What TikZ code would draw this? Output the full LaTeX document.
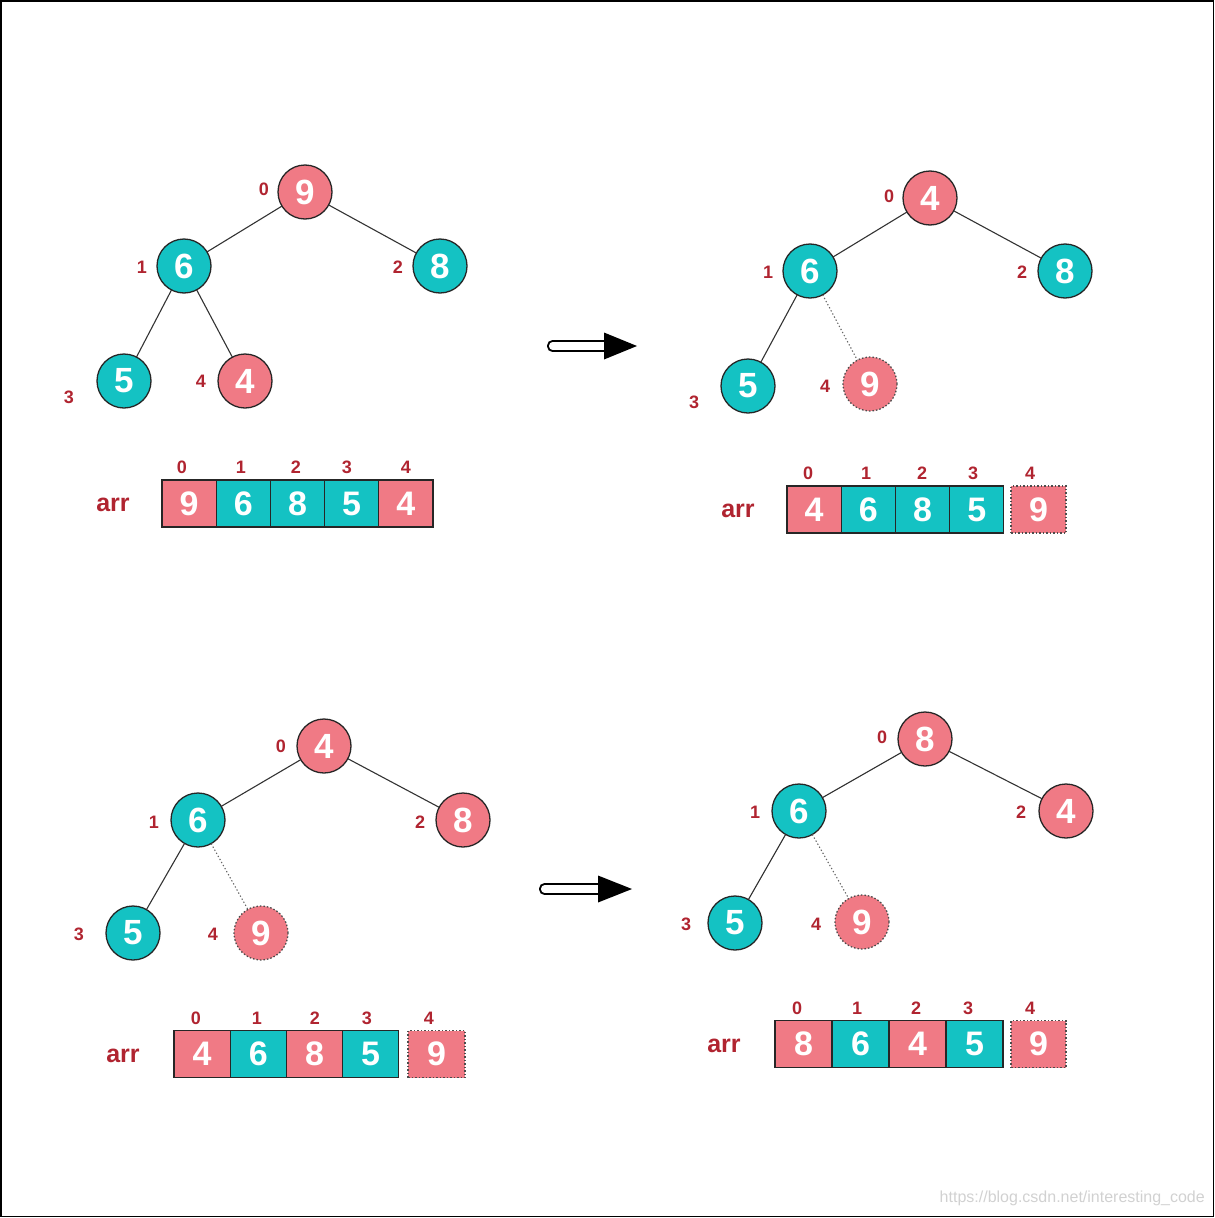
\documentclass[tikz,border=0pt]{standalone}
\usepackage{fontspec}
\setmainfont{Liberation Sans}
\definecolor{pinkc}{HTML}{F07A85}
\definecolor{tealc}{HTML}{14C2C3}
\definecolor{lblc}{HTML}{B02430}
\newcommand\nodefnt{\fontsize{35}{38}\selectfont\bfseries}
\newcommand\cellfnt{\fontsize{34}{36}\selectfont\bfseries}
\newcommand\idxfnt{\fontsize{18}{20}\selectfont\bfseries}
\newcommand\arrfnt{\fontsize{25}{28}\selectfont\bfseries}
\tikzset{
  hnode/.style={circle, draw=black!85, line width=1.3pt, minimum size=54pt, inner sep=0pt, outer sep=0pt, text=white, font=\nodefnt},
  pk/.style={hnode, fill=pinkc},
  tl/.style={hnode, fill=tealc},
  dpk/.style={pk, draw=black!70, dash pattern=on 1.5pt off 2pt},
  idx/.style={text=lblc, font=\idxfnt, inner sep=0pt},
  arrlbl/.style={text=lblc, font=\arrfnt, inner sep=0pt},
  edge/.style={draw=black!80, line width=1.1pt},
  dedge/.style={draw=black!60, line width=1.1pt, dash pattern=on 1.3pt off 2.2pt},
  cell/.style={rectangle, draw=black!85, line width=1.3pt, inner sep=0pt, outer sep=0pt, minimum height=47pt, text=white, font=\cellfnt},
  cp/.style={cell, fill=pinkc},
  ct/.style={cell, fill=tealc},
  dcp/.style={cp, draw=black!70, dash pattern=on 1.5pt off 2pt},
  bigarrow/.style={line width=1.8pt, draw=black, fill=white, rounded corners=4.5pt},
  arrowhead/.style={fill=black},
  wm/.style={text=black!18, font=\fontsize{16}{18}\selectfont, inner sep=0pt}
}
\begin{document}
\begin{tikzpicture}[x=1pt,y=-1pt]
\useasboundingbox (0,0) rectangle (1215,1218);
\draw[line width=1.2pt] (1,1) rectangle (1213.5,1216.5);

% ---------- Panel 1 ----------
\node[pk] (a0) at (305,192) {9};
\node[tl] (a1) at (184,266) {6};
\node[tl] (a2) at (440,266) {8};
\node[tl] (a3) at (124,381) {5};
\node[pk] (a4) at (245,381) {4};
\draw[edge] (a0) -- (a1);
\draw[edge] (a0) -- (a2);
\draw[edge] (a1) -- (a3);
\draw[edge] (a1) -- (a4);
\node[idx] (al0) at (264,189) {0};
\node[idx] (al1) at (142,267) {1};
\node[idx] (al2) at (398,267) {2};
\node[idx] (al3) at (69,397) {3};
\node[idx] (al4) at (201,381) {4};
\node[arrlbl] (aarr) at (113,505) {arr};
\node[cp, minimum width=54.2pt] (ac0) at (189.1,503.5) {9};
\node[ct, minimum width=54.2pt] (ac1) at (243.3,503.5) {6};
\node[ct, minimum width=54.2pt] (ac2) at (297.5,503.5) {8};
\node[ct, minimum width=54.2pt] (ac3) at (351.7,503.5) {5};
\node[cp, minimum width=54.2pt] (ac4) at (405.9,503.5) {4};
\node[idx] (ai0) at (182,467) {0};
\node[idx] (ai1) at (241,467) {1};
\node[idx] (ai2) at (296,467) {2};
\node[idx] (ai3) at (347,467) {3};
\node[idx] (ai4) at (406,467) {4};

% arrow 1
\draw[bigarrow] (548,341) rectangle (610,351);
\fill[arrowhead] (604,332.5) -- (637,346) -- (604,359.5) -- cycle;

% ---------- Panel 2 ----------
\node[pk] (b0) at (930,198) {4};
\node[tl] (b1) at (810,271) {6};
\node[tl] (b2) at (1065,271) {8};
\node[tl] (b3) at (748,386) {5};
\node[dpk] (b4) at (870,384) {9};
\draw[edge] (b0) -- (b1);
\draw[edge] (b0) -- (b2);
\draw[edge] (b1) -- (b3);
\draw[dedge] (b1) -- (b4);
\node[idx] (bl0) at (889,196) {0};
\node[idx] (bl1) at (768,272) {1};
\node[idx] (bl2) at (1022,272) {2};
\node[idx] (bl3) at (694,402) {3};
\node[idx] (bl4) at (825,386) {4};
\node[arrlbl] (barr) at (738,511) {arr};
\node[cp, minimum width=54.2pt] (bc0) at (814.1,509.5) {4};
\node[ct, minimum width=54.2pt] (bc1) at (868.3,509.5) {6};
\node[ct, minimum width=54.2pt] (bc2) at (922.5,509.5) {8};
\node[ct, minimum width=54.2pt] (bc3) at (976.7,509.5) {5};
\node[dcp, minimum width=55pt] (bc4) at (1038.5,509.5) {9};
\node[idx] (bi0) at (808,473) {0};
\node[idx] (bi1) at (866,473) {1};
\node[idx] (bi2) at (922,473) {2};
\node[idx] (bi3) at (973,473) {3};
\node[idx] (bi4) at (1030,473) {4};

% ---------- Panel 3 ----------
\node[pk] (c0) at (324,746) {4};
\node[tl] (c1) at (198,820) {6};
\node[pk] (c2) at (463,820) {8};
\node[tl] (c3) at (133,933) {5};
\node[dpk] (c4) at (261,933) {9};
\draw[edge] (c0) -- (c1);
\draw[edge] (c0) -- (c2);
\draw[edge] (c1) -- (c3);
\draw[dedge] (c1) -- (c4);
\node[idx] (cl0) at (281,746) {0};
\node[idx] (cl1) at (154,822) {1};
\node[idx] (cl2) at (420,822) {2};
\node[idx] (cl3) at (79,934) {3};
\node[idx] (cl4) at (213,934) {4};
\node[arrlbl] (carr) at (123,1056) {arr};
\node[cp, minimum width=56.2pt] (cc0) at (202.1,1054) {4};
\node[ct, minimum width=56.2pt] (cc1) at (258.3,1054) {6};
\node[cp, minimum width=56.2pt] (cc2) at (314.5,1054) {8};
\node[ct, minimum width=56.2pt] (cc3) at (370.7,1054) {5};
\node[dcp, minimum width=57pt] (cc4) at (436.5,1054) {9};
\node[idx] (ci0) at (196,1018) {0};
\node[idx] (ci1) at (257,1018) {1};
\node[idx] (ci2) at (315,1018) {2};
\node[idx] (ci3) at (367,1018) {3};
\node[idx] (ci4) at (429,1018) {4};

% arrow 2
\draw[bigarrow] (540,884) rectangle (604,894);
\fill[arrowhead] (598,875.5) -- (632,889) -- (598,902.5) -- cycle;

% ---------- Panel 4 ----------
\node[pk] (d0) at (925,739) {8};
\node[tl] (d1) at (799,811) {6};
\node[pk] (d2) at (1066,811) {4};
\node[tl] (d3) at (735,923) {5};
\node[dpk] (d4) at (862,922) {9};
\draw[edge] (d0) -- (d1);
\draw[edge] (d0) -- (d2);
\draw[edge] (d1) -- (d3);
\draw[dedge] (d1) -- (d4);
\node[idx] (dl0) at (882,737) {0};
\node[idx] (dl1) at (755,812) {1};
\node[idx] (dl2) at (1021,812) {2};
\node[idx] (dl3) at (686,924) {3};
\node[idx] (dl4) at (816,924) {4};
\node[arrlbl] (darr) at (724,1046) {arr};
\node[cp, minimum width=57pt] (dc0) at (803.5,1044) {8};
\node[ct, minimum width=57pt] (dc1) at (860.5,1044) {6};
\node[cp, minimum width=57pt] (dc2) at (917.5,1044) {4};
\node[ct, minimum width=57pt] (dc3) at (974.5,1044) {5};
\node[dcp, minimum width=55pt] (dc4) at (1038.5,1044) {9};
\node[idx] (di0) at (797,1008) {0};
\node[idx] (di1) at (857,1008) {1};
\node[idx] (di2) at (916,1008) {2};
\node[idx] (di3) at (968,1008) {3};
\node[idx] (di4) at (1030,1008) {4};

\node[wm, anchor=east] (wmark) at (1205,1198) {https://blog.csdn.net/interesting\_code};
\end{tikzpicture}
\end{document}
